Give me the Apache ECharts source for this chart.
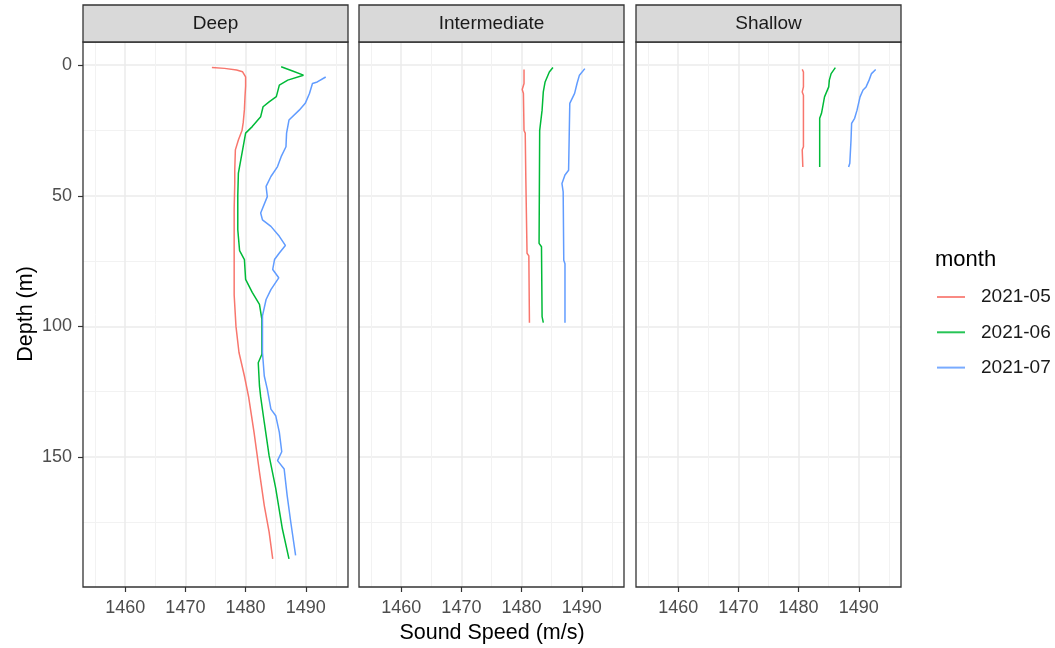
<!DOCTYPE html>
<html>
<head>
<meta charset="utf-8">
<script src="https://cdn.jsdelivr.net/npm/echarts@6/dist/echarts.min.js"></script>
<style>
  html, body { margin: 0; padding: 0; background: #fff; }
  #main { width: 1055px; height: 648px; }
</style>
</head>
<body>
<div id="main"></div>
<script>
const panels = ['Deep', 'Intermediate', 'Shallow'];
const months = ['2021-05', '2021-06', '2021-07'];
const speedTicks = [1460, 1470, 1480, 1490];
const speedMinor = [1455, 1465, 1475, 1485, 1495];
const depthTicks = [0, 50, 100, 150];
const depthMinor = [25, 75, 125, 175];

// [sound speed (m/s), depth (m)]
const deepMay = [[1474.4, 0.9], [1476.5, 1.2], [1478.5, 1.8], [1479.5, 2.5], [1480.0, 4.5], [1480.0, 8], [1479.9, 12],
  [1479.8, 17], [1479.6, 22], [1479.4, 25], [1478.8, 28.6], [1478.3, 32.4], [1478.2, 40], [1478.2, 45], [1478.1, 55],
  [1478.1, 62], [1478.1, 75], [1478.1, 88], [1478.4, 100], [1478.9, 110], [1479.8, 119], [1480.5, 127], [1481.4, 140.6],
  [1482.3, 155.8], [1483.1, 168.6], [1483.9, 178.7], [1484.5, 189]];
const deepJun = [[1485.9, 0.6], [1487.8, 2.2], [1489.6, 3.8], [1487.0, 5.7], [1485.6, 7.6], [1485.1, 12], [1483.9, 14],
  [1482.9, 15.9], [1482.5, 19.7], [1481.1, 23.5], [1480.0, 26], [1479.5, 32.4], [1478.8, 41.3], [1478.7, 50], [1478.7, 63],
  [1479.0, 71], [1479.8, 74.4], [1480.0, 82], [1481.1, 87], [1482.3, 91.6], [1482.7, 97.3], [1482.7, 103.7], [1482.7, 110.7],
  [1482.1, 113.9], [1482.3, 122.8], [1482.5, 127], [1483.1, 136.8], [1483.9, 149.5], [1485.0, 162], [1486.1, 177.5], [1487.2, 189]];
const deepJul = [[1493.3, 4.5], [1491.9, 6.4], [1491.1, 7], [1490.6, 10.8], [1489.9, 14.6], [1488.9, 17.2], [1487.2, 21],
  [1486.8, 26], [1486.7, 31.2], [1485.9, 35], [1485.3, 38.8], [1484.2, 42.6], [1483.4, 46.4], [1483.6, 50.3], [1482.5, 56.6],
  [1482.8, 59.2], [1484.2, 61.7], [1485.6, 65.5], [1486.6, 69], [1485.6, 71.9], [1484.8, 74.4], [1484.5, 78.2], [1485.5, 81.4],
  [1484.2, 85.9], [1483.4, 89.7], [1482.8, 96], [1482.8, 110], [1483.1, 119], [1483.6, 124], [1484.2, 131.7], [1485.0, 134.2],
  [1485.6, 140.6], [1486.0, 148], [1485.3, 151.4], [1486.4, 154.6], [1486.9, 164.8], [1487.5, 175], [1488.3, 187.7]];

const interMay = [[1480.4, 1.6], [1480.4, 7], [1480.1, 9.3], [1480.3, 10.8], [1480.4, 25], [1480.6, 26], [1480.7, 43.4],
  [1480.8, 44], [1480.9, 72], [1481.2, 73], [1481.3, 98.6]];
const interJun = [[1485.2, 0.9], [1484.6, 2.6], [1483.9, 6.4], [1483.6, 10.2], [1483.4, 17.2], [1483.0, 25], [1482.9, 68.2],
  [1483.3, 69.5], [1483.4, 96.3], [1483.6, 98.6]];
const interJul = [[1490.5, 1.3], [1489.6, 3.8], [1489.2, 7], [1488.8, 10.8], [1488.0, 14.6], [1487.9, 27.4], [1487.8, 40.2],
  [1487.2, 42], [1486.7, 45.3], [1486.9, 48.5], [1487.0, 74.7], [1487.2, 76], [1487.2, 98.6]];

const shallowMay = [[1480.6, 1.6], [1480.8, 2.6], [1480.8, 8.3], [1480.6, 10.2], [1480.8, 11.5], [1480.8, 31.2],
  [1480.6, 32.4], [1480.7, 39]];
const shallowJun = [[1486.1, 0.9], [1485.4, 3.2], [1485.1, 5.7], [1485.0, 8.3], [1484.3, 12.1], [1484.0, 15.9],
  [1483.8, 18.4], [1483.5, 20.3], [1483.5, 39]];
const shallowJul = [[1492.8, 1.6], [1492.1, 3.2], [1491.7, 5.7], [1491.2, 8.3], [1490.7, 9.5], [1490.2, 12.1],
  [1489.7, 17.2], [1489.3, 20.3], [1488.8, 22.3], [1488.7, 28.6], [1488.5, 37.5], [1488.3, 39]];

const profiles = [
  [deepMay, deepJun, deepJul],
  [interMay, interJun, interJul],
  [shallowMay, shallowJun, shallowJul]
];

const colors = ['#F8766D', '#00BA38', '#619CFF'];
const font = '"Liberation Sans", Arial, sans-serif';
const panelLeft = [83, 359, 636];
const panelWidth = 265;
const panelTop = 42;
const panelHeight = 545;
const noTick = { show: false, length: 0, lineStyle: { color: 'rgba(0,0,0,0)', width: 0 } };

let grid = [], xAxis = [], yAxis = [], series = [], graphic = [];

panels.forEach((name, i) => {
  grid.push({ left: panelLeft[i], top: panelTop, width: panelWidth, height: panelHeight, show: false });

  // major axes (labels, ticks, major grid)
  xAxis.push({
    type: 'value', gridIndex: i, position: 'bottom', min: 1453, max: 1497,
    axisLine: { show: false, onZero: false },
    axisTick: { show: true, length: 5, customValues: speedTicks, lineStyle: { color: '#333', width: 1.2 } },
    axisLabel: { show: true, customValues: speedTicks, margin: 12, fontSize: 18, color: '#4D4D4D', fontFamily: font,
      formatter: v => String(v) },
    splitLine: { show: true, lineStyle: { color: '#EBEBEB', width: 1.5 } }
  });
  // minor axes (minor grid only)
  xAxis.push({
    type: 'value', gridIndex: i, position: 'top', min: 1453, max: 1497,
    axisLine: { show: false, onZero: false },
    axisTick: Object.assign({ customValues: speedMinor }, noTick),
    axisLabel: { show: false },
    splitLine: { show: true, lineStyle: { color: '#F2F2F2', width: 1 } }
  });
  yAxis.push({
    type: 'value', gridIndex: i, position: 'left', inverse: true, min: -8.9, max: 199.8,
    axisLine: { show: false, onZero: false },
    axisTick: i == 0
      ? { show: true, length: 5, customValues: depthTicks, lineStyle: { color: '#333', width: 1.2 } }
      : Object.assign({ customValues: depthTicks }, noTick),
    axisLabel: { show: i == 0, customValues: depthTicks, margin: 11, fontSize: 18, color: '#4D4D4D', fontFamily: font },
    splitLine: { show: true, lineStyle: { color: '#EBEBEB', width: 1.5 } }
  });
  yAxis.push({
    type: 'value', gridIndex: i, position: 'right', inverse: true, min: -8.9, max: 199.8,
    axisLine: { show: false, onZero: false },
    axisTick: Object.assign({ customValues: depthMinor }, noTick),
    axisLabel: { show: false },
    splitLine: { show: true, lineStyle: { color: '#F2F2F2', width: 1 } }
  });

  months.forEach((m, k) => {
    series.push({
      name: m, type: 'line', xAxisIndex: i * 2, yAxisIndex: i * 2,
      data: profiles[i][k], symbol: 'none', showSymbol: false,
      color: colors[k], lineStyle: { width: 1.5, color: colors[k] }
    });
  });

  // panel border on top of the grid lines
  graphic.push({
    type: 'rect', z: 100, silent: true,
    shape: { x: panelLeft[i], y: panelTop, width: panelWidth, height: panelHeight },
    style: { fill: null, stroke: '#333', lineWidth: 1.3 }
  });
  // facet strip
  graphic.push({
    type: 'rect', z: 100, shape: { x: panelLeft[i], y: 5, width: panelWidth, height: panelTop - 5 },
    style: { fill: '#D9D9D9', stroke: '#333', lineWidth: 1.3 }
  });
  graphic.push({
    type: 'text', z: 101, x: panelLeft[i] + panelWidth / 2, y: 24,
    style: { text: name, fontSize: 19, fill: '#1A1A1A', fontFamily: font, textAlign: 'center', textVerticalAlign: 'middle' }
  });
});

graphic.push({
  type: 'text', x: 492, y: 633,
  style: { text: 'Sound Speed (m/s)', fontSize: 21.5, fill: '#000', fontFamily: font, textAlign: 'center', textVerticalAlign: 'middle' }
});
graphic.push({
  type: 'text', x: 26, y: 314, rotation: Math.PI / 2,
  style: { text: 'Depth (m)', fontSize: 21.5, fill: '#000', fontFamily: font, textAlign: 'center', textVerticalAlign: 'middle' }
});
graphic.push({
  type: 'text', x: 935, y: 260,
  style: { text: 'month', fontSize: 22, fill: '#000', fontFamily: font, textAlign: 'left', textVerticalAlign: 'middle' }
});

const chart = echarts.init(document.getElementById('main'));
chart.setOption({
  animation: false,
  backgroundColor: '#fff',
  grid: grid,
  xAxis: xAxis,
  yAxis: yAxis,
  series: series,
  graphic: graphic,
  legend: {
    data: months.map((m, k) => ({ name: m, itemStyle: { color: colors[k], opacity: 0.85 } })),
    icon: 'rect', orient: 'vertical', left: 937, top: 287, padding: 0,
    itemWidth: 28, itemHeight: 2, itemGap: 15.3, selectedMode: false,
    textStyle: { fontSize: 19, lineHeight: 20, color: '#1A1A1A', fontFamily: font, padding: [0, 0, 0, 11] }
  }
});
</script>
</body>
</html>
